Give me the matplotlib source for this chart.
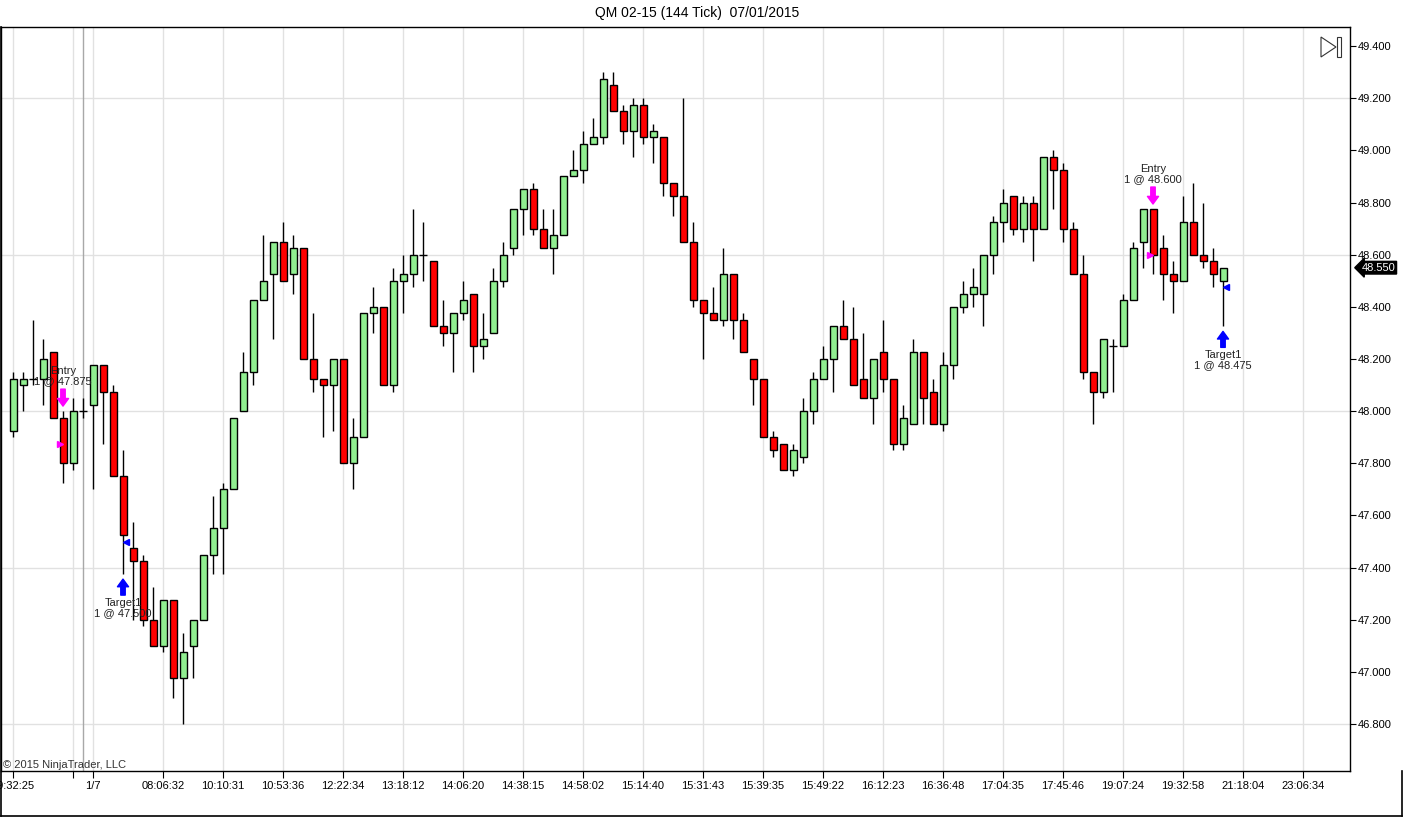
import matplotlib
matplotlib.use('Agg')
import matplotlib.pyplot as plt
from matplotlib.patches import Polygon, Rectangle
from matplotlib.lines import Line2D
from matplotlib.transforms import blended_transform_factory
import numpy as np

plt.rcParams['font.family'] = ['Liberation Sans', 'DejaVu Sans']

# ---------------- data (QM 02-15, 144 tick bars) ----------------
opens = [47.925, 48.100, 48.125, 48.125, 48.225, 47.975, 47.800, 48.000, 48.025, 48.175,
         48.075, 47.750, 47.475, 47.425, 47.200, 47.100, 47.275, 46.975, 47.100, 47.200,
         47.450, 47.550, 47.700, 48.000, 48.150, 48.425, 48.525, 48.650, 48.525, 48.625,
         48.200, 48.125, 48.100, 48.200, 47.800, 47.900, 48.375, 48.400, 48.100, 48.500,
         48.525, 48.600, 48.575, 48.325, 48.300, 48.375, 48.450, 48.250, 48.300, 48.500,
         48.625, 48.775, 48.850, 48.700, 48.625, 48.675, 48.900, 48.925, 49.025, 49.050,
         49.250, 49.150, 49.075, 49.175, 49.050, 49.050, 48.875, 48.825, 48.650, 48.425,
         48.375, 48.350, 48.525, 48.350, 48.200, 48.125, 47.900, 47.875, 47.775, 47.825,
         48.000, 48.125, 48.200, 48.325, 48.275, 48.125, 48.050, 48.225, 48.125, 47.875,
         47.950, 48.225, 48.075, 47.950, 48.175, 48.400, 48.450, 48.450, 48.600, 48.725,
         48.825, 48.700, 48.800, 48.700, 48.975, 48.925, 48.700, 48.525, 48.150, 48.075,
         48.250, 48.250, 48.425, 48.650, 48.775, 48.625, 48.525, 48.500, 48.725, 48.600,
         48.575, 48.500]
highs = [48.150, 48.150, 48.350, 48.275, 48.225, 48.000, 48.050, 48.050, 48.175, 48.175,
         48.100, 47.850, 47.575, 47.450, 47.325, 47.275, 47.275, 47.150, 47.200, 47.450,
         47.675, 47.725, 47.975, 48.225, 48.425, 48.675, 48.650, 48.725, 48.675, 48.625,
         48.375, 48.125, 48.200, 48.200, 47.975, 48.375, 48.475, 48.400, 48.550, 48.600,
         48.775, 48.725, 48.575, 48.425, 48.375, 48.500, 48.450, 48.375, 48.550, 48.650,
         48.775, 48.850, 48.875, 48.775, 48.775, 48.900, 49.000, 49.075, 49.125, 49.300,
         49.300, 49.175, 49.200, 49.200, 49.100, 49.050, 48.875, 49.200, 48.725, 48.425,
         48.475, 48.625, 48.525, 48.375, 48.200, 48.125, 47.925, 47.875, 47.875, 48.050,
         48.150, 48.250, 48.325, 48.425, 48.400, 48.300, 48.200, 48.350, 48.125, 48.025,
         48.275, 48.225, 48.125, 48.225, 48.400, 48.500, 48.550, 48.600, 48.750, 48.850,
         48.825, 48.825, 48.825, 48.975, 49.000, 48.950, 48.725, 48.600, 48.150, 48.275,
         48.275, 48.450, 48.650, 48.775, 48.775, 48.675, 48.575, 48.825, 48.875, 48.800,
         48.625, 48.550]
lows = [47.900, 48.000, 48.100, 48.025, 47.975, 47.725, 47.775, 47.975, 47.700, 47.875,
        47.750, 47.375, 47.200, 47.175, 47.100, 47.075, 46.900, 46.800, 46.975, 47.200,
        47.375, 47.375, 47.700, 48.000, 48.100, 48.425, 48.275, 48.500, 48.450, 48.200,
        48.075, 47.900, 47.925, 47.800, 47.700, 47.900, 48.300, 48.100, 48.075, 48.375,
        48.475, 48.500, 48.325, 48.250, 48.150, 48.350, 48.150, 48.200, 48.300, 48.475,
        48.600, 48.675, 48.675, 48.625, 48.525, 48.675, 48.900, 48.875, 49.025, 49.025,
        49.150, 49.025, 48.975, 49.025, 48.950, 48.825, 48.750, 48.650, 48.400, 48.200,
        48.350, 48.325, 48.275, 48.225, 48.025, 47.900, 47.825, 47.775, 47.750, 47.800,
        47.950, 48.125, 48.075, 48.275, 48.100, 48.050, 47.950, 48.075, 47.850, 47.850,
        47.950, 47.950, 47.950, 47.925, 48.125, 48.375, 48.400, 48.325, 48.525, 48.650,
        48.675, 48.650, 48.575, 48.700, 48.775, 48.650, 48.525, 48.125, 47.950, 48.050,
        48.075, 48.250, 48.425, 48.550, 48.525, 48.425, 48.375, 48.500, 48.600, 48.550,
        48.475, 48.325]
closes = [48.125, 48.125, 48.125, 48.200, 47.975, 47.800, 48.000, 48.000, 48.175, 48.075,
          47.750, 47.525, 47.425, 47.200, 47.100, 47.275, 46.975, 47.075, 47.200, 47.450,
          47.550, 47.700, 47.975, 48.150, 48.425, 48.500, 48.650, 48.500, 48.625, 48.200,
          48.125, 48.100, 48.200, 47.800, 47.900, 48.375, 48.400, 48.100, 48.500, 48.525,
          48.600, 48.600, 48.325, 48.300, 48.375, 48.425, 48.250, 48.275, 48.500, 48.600,
          48.775, 48.850, 48.700, 48.625, 48.675, 48.900, 48.925, 49.025, 49.050, 49.275,
          49.150, 49.075, 49.175, 49.050, 49.075, 48.875, 48.825, 48.650, 48.425, 48.375,
          48.350, 48.525, 48.350, 48.225, 48.125, 47.900, 47.850, 47.775, 47.850, 48.000,
          48.125, 48.200, 48.325, 48.275, 48.100, 48.050, 48.200, 48.125, 47.875, 47.975,
          48.225, 48.050, 47.950, 48.175, 48.400, 48.450, 48.475, 48.600, 48.725, 48.800,
          48.700, 48.800, 48.700, 48.975, 48.925, 48.700, 48.525, 48.150, 48.075, 48.275,
          48.250, 48.425, 48.625, 48.775, 48.600, 48.525, 48.500, 48.725, 48.600, 48.575,
          48.525, 48.550]

tick_bars = [0, 6, 8, 15, 21, 27, 33, 39, 45, 51, 57, 63, 69, 75, 81, 87, 93, 99,
             105, 111, 117, 123, 129]
tick_labels = ["09:32:25", "", "1/7", "08:06:32", "10:10:31", "10:53:36", "12:22:34",
               "13:18:12", "14:06:20", "14:38:15", "14:58:02", "15:14:40", "15:31:43",
               "15:39:35", "15:49:22", "16:12:23", "16:36:48", "17:04:35", "17:45:46",
               "19:07:24", "19:32:58", "21:18:04", "23:06:34"]
session_break_bar = 7

y_ticks = [46.8, 47.0, 47.2, 47.4, 47.6, 47.8, 48.0, 48.2, 48.4, 48.6, 48.8, 49.0, 49.2, 49.4]
h_grid = [46.8, 47.4, 48.0, 48.6, 49.2]

# trades: (bar, price, label)
entry_bars = [5, 114]
entry_prices = [47.875, 48.600]
target_bars = [11, 121]
target_prices = [47.500, 48.475]

title = "QM 02-15 (144 Tick)  07/01/2015"

# ---------------- figure ----------------
W, H = 1404, 817
fig = plt.figure(figsize=(W / 100, H / 100), dpi=100)
fig.patch.set_facecolor('white')


def fx(px):
    return px / W


def fy(py):
    return 1 - py / H


ax = fig.add_axes([fx(1), fy(771), (1350 - 1) / W, (771 - 27) / H])
ax.set_xlim(-1.2, 133.7)
ax.set_ylim(46.620, 49.473)

o = np.array(opens)
h = np.array(highs)
l = np.array(lows)
c = np.array(closes)
x = np.arange(len(o))

# grid
for gx in tick_bars:
    ax.axvline(gx, color='#e1e1e1', lw=1.0, zorder=0)
for gy in h_grid:
    ax.axhline(gy, color='#e1e1e1', lw=1.0, zorder=0)
ax.axvline(session_break_bar, color='#a8a8a8', lw=1.0, zorder=0.5)

# candles
ax.vlines(x, l, h, color='black', lw=1.0, zorder=2)
eq = np.isclose(o, c)
up = (c > o) & ~eq
dn = (c < o) & ~eq
ax.bar(x[up], c[up] - o[up], bottom=o[up], width=0.7, color='#90EE90',
       edgecolor='black', linewidth=1.0, zorder=3)
ax.bar(x[dn], o[dn] - c[dn], bottom=c[dn], width=0.7, color='#FF0000',
       edgecolor='black', linewidth=1.0, zorder=3)
ax.hlines(c[eq], x[eq] - 0.4, x[eq] + 0.4, color='black', lw=1.0, zorder=3)

# trade markers
PT = 0.72  # points per pixel
for b, p in zip(entry_bars, entry_prices):
    hi = h[b]
    ax.annotate('', xy=(b, hi), xytext=(0, 22 * PT), textcoords='offset points',
                arrowprops=dict(arrowstyle='simple,head_length=0.55,head_width=0.8,tail_width=0.32',
                                fc='#ff00ff', ec='#ff00ff', shrinkA=0, shrinkB=5 * PT), zorder=5)
    ax.annotate('Entry\n1 @ %.3f' % p, xy=(b, hi), xytext=(0, 25 * PT),
                textcoords='offset points', ha='center', va='bottom', fontsize=8,
                color='#222222', linespacing=1.0, zorder=6)
    ax.plot(b - 0.32, p, marker='>', color='#ff00ff', ms=4.5, mec='#ff00ff', zorder=5)

for b, p in zip(target_bars, target_prices):
    lo = l[b]
    ax.annotate('', xy=(b, lo), xytext=(0, -21 * PT), textcoords='offset points',
                arrowprops=dict(arrowstyle='simple,head_length=0.55,head_width=0.8,tail_width=0.32',
                                fc='#0000ff', ec='#0000ff', shrinkA=0, shrinkB=5 * PT), zorder=5)
    ax.annotate('Target1\n1 @ %.3f' % p, xy=(b, lo), xytext=(0, -24 * PT),
                textcoords='offset points', ha='center', va='top', fontsize=8,
                color='#222222', linespacing=1.0, zorder=6)
    ax.plot(b + 0.32, p, marker='<', color='#0000ff', ms=4.5, mec='#0000ff', zorder=5)

# axes styling
for s in ax.spines.values():
    s.set_color('black')
    s.set_linewidth(1.0)
ax.yaxis.tick_right()
ax.set_yticks(y_ticks)
ax.set_yticklabels(['%.3f' % v for v in y_ticks])
ax.set_xticks(tick_bars)
ax.set_xticklabels(tick_labels)
ax.tick_params(axis='y', direction='out', length=4 * PT * 1.4, width=0.8, pad=1.5,
               labelsize=8, colors='black')
ax.tick_params(axis='x', direction='out', length=5 * PT * 1.4, width=0.8, pad=2.5,
               labelsize=8, colors='black')

# current price tag
tr = blended_transform_factory(ax.transAxes, ax.transData)
ax.text(1.0085, c[-1], '%.3f' % c[-1], transform=tr, ha='left', va='center',
        fontsize=8, color='white', zorder=10, clip_on=False,
        bbox=dict(boxstyle='larrow,pad=0.12', fc='black', ec='black'))

# title and copyright
fig.text(fx(697), fy(13), title, ha='center', va='center', fontsize=10, color='black')
fig.text(fx(3), fy(765), '\u00a9 2015 NinjaTrader, LLC', ha='left', va='center',
         fontsize=8, color='#333333')

# chart-scroll button (UI glyph)
fig.add_artist(Polygon([(fx(1321), fy(37)), (fx(1321), fy(57)), (fx(1336), fy(47))],
                       closed=True, fill=False, ec='#333333', lw=0.8,
                       transform=fig.transFigure))
fig.add_artist(Rectangle((fx(1337), fy(57)), fx(4), (20) / H, fill=False,
                         ec='#333333', lw=0.8, transform=fig.transFigure))

# outer frame lines
fig.add_artist(Line2D([fx(0.5), fx(0.5)], [fy(27), fy(816)], color='black', lw=1.2,
                      transform=fig.transFigure))
fig.add_artist(Line2D([fx(0.5), fx(1402)], [fy(816), fy(816)], color='black', lw=1.2,
                      transform=fig.transFigure))
fig.add_artist(Line2D([fx(1402), fx(1402)], [fy(771), fy(816)], color='black', lw=1.2,
                      transform=fig.transFigure))

fig.savefig('out.png', dpi=100, facecolor='white')
